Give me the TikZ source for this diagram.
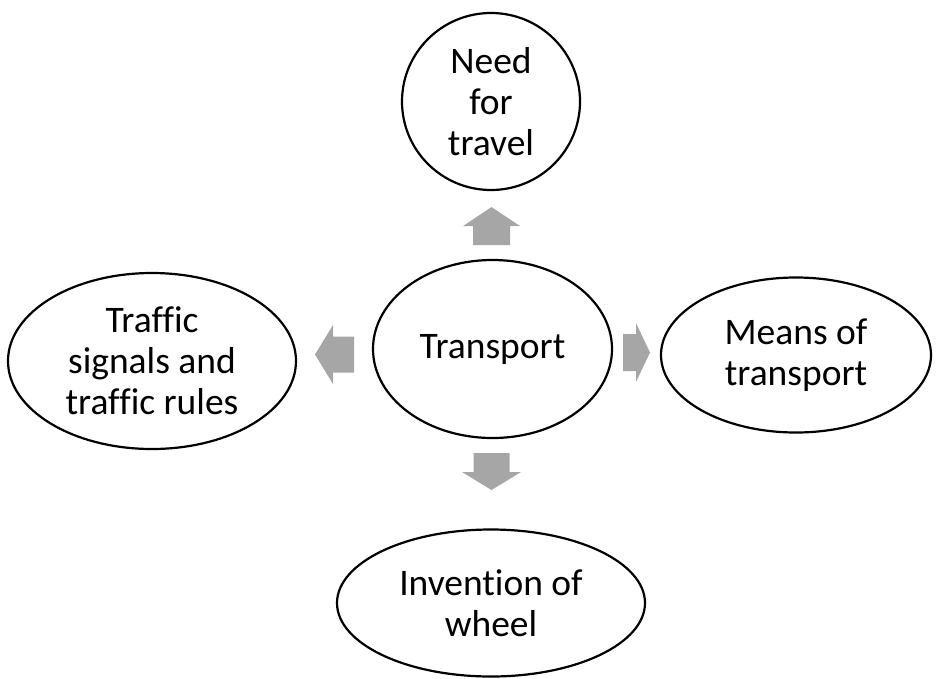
\documentclass[tikz,border=0pt]{standalone}
\usepackage{fontspec}
\setmainfont[Ligatures=CommonOff]{Carlito}
\usetikzlibrary{shapes.geometric}
\tikzset{
  bubble/.style={ellipse, draw=black, line width=2.2pt, inner sep=0pt, align=center,
    font=\fontsize{37.5}{41}\selectfont},
  blockarrow/.style={fill=black!35, draw=none}
}
\begin{document}
\begin{tikzpicture}[x=1pt,y=-1pt]
\useasboundingbox (0,0) rectangle (936,678);
\node[bubble, minimum width=178pt, minimum height=177pt] (need) at (491,101.5) {Need\\for\\travel};
\node[bubble, minimum width=239pt, minimum height=178pt] (trans) at (492.5,349) {\raisebox{-3pt}{Transport}};
\node[bubble, minimum width=270pt, minimum height=155pt] (means) at (796,355) {Means of\\transport};
\node[bubble, minimum width=288pt, minimum height=176pt] (traffic) at (152,361) {Traffic\\signals and\\traffic rules};
\node[bubble, minimum width=308pt, minimum height=147pt] (wheel) at (491,603) {Invention of\\wheel};
% block arrows
\coordinate (upt) at (491.5,207);
\fill[blockarrow] (upt) -- ++(28.5,19) -- ++(-10,0) -- ++(0,19) -- ++(-37,0) -- ++(0,-19) -- ++(-10,0) -- cycle;
\coordinate (rt) at (650,352.5);
\fill[blockarrow] (rt) -- ++(-14,29.5) -- ++(0,-11) -- ++(-13,0) -- ++(0,-37) -- ++(13,0) -- ++(0,-11) -- cycle;
\coordinate (lt) at (315,354.5);
\fill[blockarrow] (lt) -- ++(18,29.5) -- ++(0,-11.5) -- ++(21,0) -- ++(0,-36) -- ++(-21,0) -- ++(0,-11.5) -- cycle;
\coordinate (dt) at (491.5,490);
\fill[blockarrow] (dt) -- ++(29.5,-18) -- ++(-11.5,0) -- ++(0,-19) -- ++(-36,0) -- ++(0,19) -- ++(-11.5,0) -- cycle;
\end{tikzpicture}
\end{document}
